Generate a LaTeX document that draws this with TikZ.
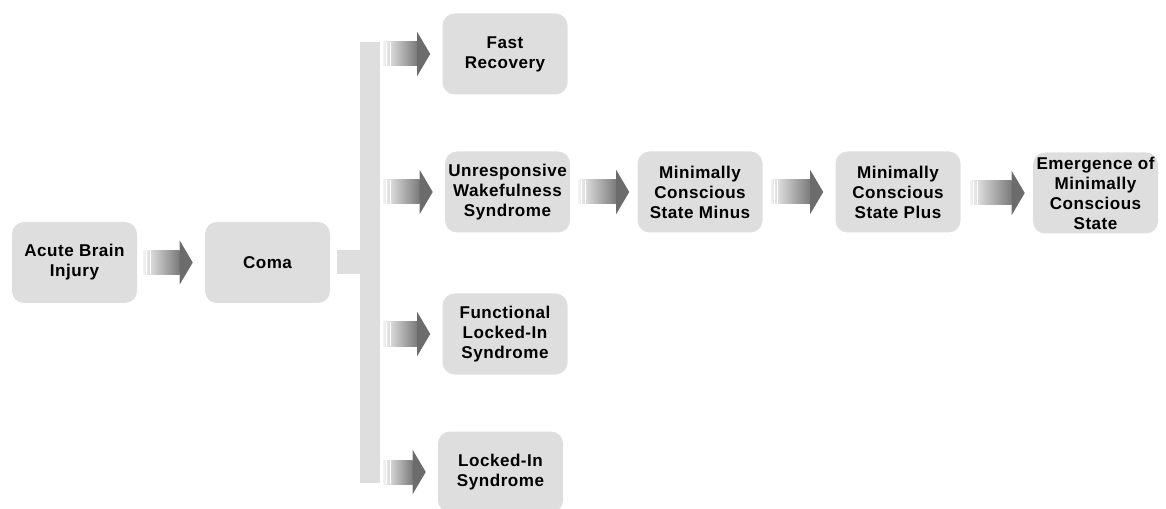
\documentclass[tikz,border=0pt]{standalone}
\usepackage{fontspec}
\setmainfont{Liberation Sans}[LetterSpace=3]
\usepackage{tikz}
\usetikzlibrary{calc}

\definecolor{boxgray}{HTML}{DEDEDE}
\definecolor{shaftlight}{HTML}{F2F2F2}
\definecolor{shaftdark}{HTML}{7A7A7A}
\definecolor{headgray}{HTML}{6C6C6C}

\tikzset{
  state/.style={fill=boxgray, rounded corners=9pt, align=center,
    minimum width=93.75pt, minimum height=60.75pt, inner sep=2pt,
    font=\bfseries\fontsize{12.8}{15}\selectfont},
  bar/.style={fill=boxgray, minimum width=15pt, minimum height=330.75pt, inner sep=0pt}
}

% fat grey arrow, x of start from #1, height and tip from #2
\newcommand{\grarrow}[2]{%
  \shade[left color=shaftlight, right color=shaftdark] let \p1=(#1), \p2=(#2) in
    (\x1,\y2-9pt) rectangle (\x2-9.75pt,\y2+9pt);
  \fill[headgray] let \p1=(#1), \p2=(#2) in
    (\x2-9.75pt,\y2+16.5pt) -- (\x2,\y2) -- (\x2-9.75pt,\y2-16.5pt) -- cycle;
  \draw[white, line width=0.6pt] let \p1=(#1), \p2=(#2) in
    (\x1+2.6pt,\y2-9pt) -- ++(0,18pt) (\x1+5.2pt,\y2-9pt) -- ++(0,18pt);
}

\begin{document}
\begin{tikzpicture}[x=0.75pt, y=-0.75pt]
  \useasboundingbox (0,0) rectangle (1166,509);
  \node[state] (abi) at (74.5,262.5) {Acute Brain\\Injury};
  \node[state] (coma) at (267.5,262.5) {Coma};
  \node[bar] (bar) at (370,262.5) {};
  \node[state] (fast) at (505,54) {Fast\\Recovery};
  \node[state] (uws) at (507.5,192) {Unresponsive\\Wakefulness\\Syndrome};
  \node[state] (flis) at (505,334) {Functional\\Locked-In\\Syndrome};
  \node[state] (lis) at (500.5,472) {Locked-In\\Syndrome};
  \node[state] (mcsm) at (700,192) {Minimally\\Conscious\\State Minus};
  \node[state] (mcsp) at (898,192) {Minimally\\Conscious\\State Plus};
  \node[state] (emcs) at (1095.5,193) {Emergence of\\Minimally\\Conscious\\State};

  \draw[boxgray, line width=18pt] ([xshift=5pt]coma.east) -- (bar.west);

  \grarrow{[xshift=4.5pt]abi.east}{[xshift=-9pt]coma.west}
  \foreach \b in {fast,uws,flis,lis}
    {\grarrow{[xshift=2.25pt]bar.east}{[xshift=-9pt]\b.west}}
  \grarrow{[xshift=6pt]uws.east}{[xshift=-6pt]mcsm.west}
  \grarrow{[xshift=6pt]mcsm.east}{[xshift=-9pt]mcsp.west}
  \grarrow{[xshift=7pt]mcsp.east}{[xshift=-6pt]emcs.west}
\end{tikzpicture}
\end{document}
